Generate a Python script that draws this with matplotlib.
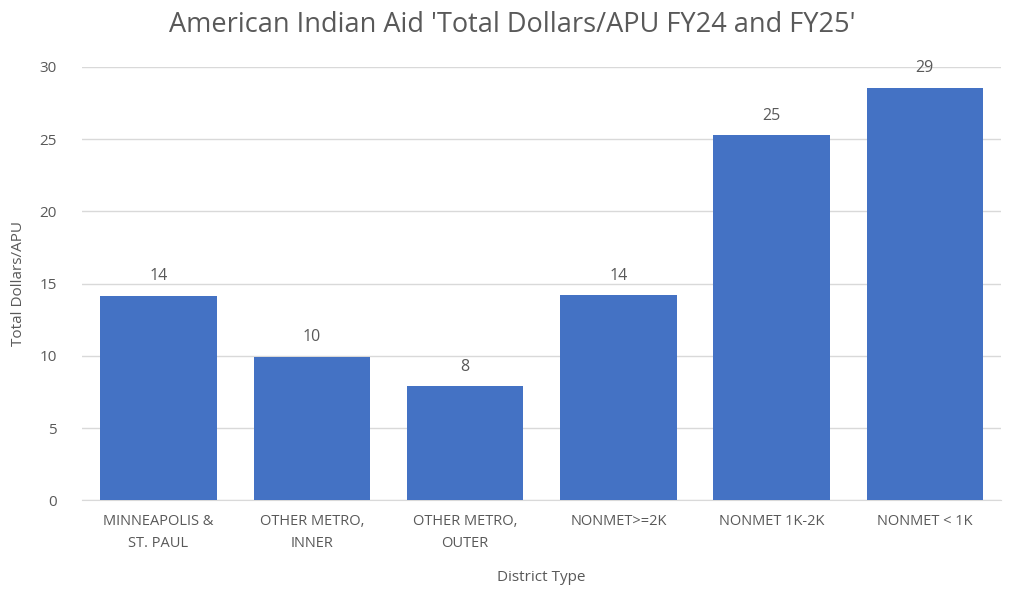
import matplotlib
matplotlib.use("Agg")
import matplotlib.pyplot as plt

categories = ["MINNEAPOLIS &\nST. PAUL", "OTHER METRO,\nINNER", "OTHER METRO,\nOUTER",
              "NONMET>=2K", "NONMET 1K-2K", "NONMET < 1K"]
values = [14.15, 9.95, 7.9, 14.2, 25.25, 28.55]
yticks = [0, 5, 10, 15, 20, 25, 30]

plt.rcParams['font.family'] = ['Open Sans', 'DejaVu Sans']
grey = '#595959'

fig = plt.figure(figsize=(10.24, 6.02), dpi=100)
ax = fig.add_axes([0.080, 0.169, 0.898, 0.72])

x = range(len(categories))
bars = ax.bar(x, values, width=0.76, color='#4472C4', zorder=3)
for b, v in zip(bars, values):
    ax.text(b.get_x() + b.get_width() / 2, v + 0.8, "%d" % round(v),
            ha='center', va='bottom', fontsize=11.5, color=grey)

ax.set_xlim(-0.5, len(categories) - 0.5)
ax.set_ylim(0, 30)
ax.set_yticks(yticks)
ax.set_xticks(list(x))
ax.set_xticklabels(categories, fontsize=10.5, color=grey, linespacing=1.6)
ax.tick_params(axis='y', labelsize=11, labelcolor=grey, length=0, pad=18)
ax.tick_params(axis='x', length=0, pad=10)
ax.grid(axis='y', color='#d9d9d9', linewidth=1, zorder=0)
ax.set_axisbelow(True)
for s in ['top', 'right', 'left']:
    ax.spines[s].set_visible(False)
ax.spines['bottom'].set_color('#d9d9d9')

ax.set_xlabel("District Type", fontsize=11, color=grey, labelpad=14)
ax.set_ylabel("Total Dollars/APU", fontsize=11, color=grey, labelpad=10)
fig.text(0.5, 0.958, "American Indian Aid 'Total Dollars/APU FY24 and FY25'",
         ha='center', va='center', fontsize=19.5, color=grey)

fig.savefig("out.png", dpi=100)
